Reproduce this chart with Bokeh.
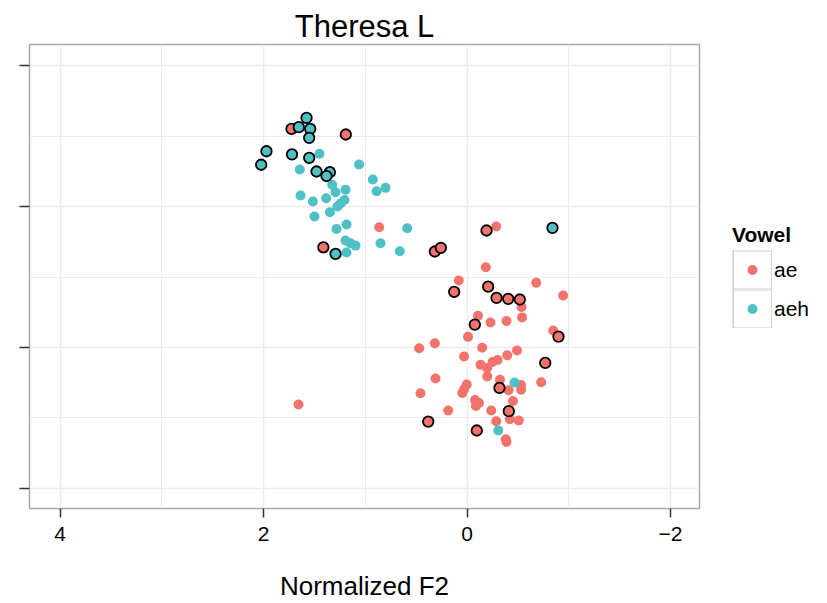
import numpy as np
from bokeh.plotting import figure
from bokeh.layouts import row
from bokeh.models import Range1d, FixedTicker, Legend, LegendItem, ColumnDataSource
from bokeh.embed import file_html
from bokeh.resources import INLINE

# ---- data (Normalized F2 on x, unlabelled F1 scale on y) ----
ae_x = [0.863, 1.656, -0.287, -0.185, 0.081, -0.680, -0.945, -0.536, -0.108, -0.231,
        -0.388, -0.541, -0.847, -0.010, 0.470, 0.316, -0.149, 0.029, -0.395, -0.491,
        -0.300, -0.251, -0.133, -0.197, -0.199, 0.310, -0.324, -0.531, -0.531, -0.729,
        -0.408, 0.003, 0.027, 0.046, 0.457, -0.079, -0.118, -0.088, -0.452, 0.185,
        -0.238, -0.287, -0.421, -0.509, -0.381, -0.388]
ae_y = [0.854, -0.405, 0.859, 0.570, 0.476, 0.460, 0.369, 0.288, 0.226, 0.178,
        0.188, 0.214, 0.121, 0.076, -0.005, 0.031, -0.001, -0.064, -0.055, -0.021,
        -0.089, -0.103, -0.123, -0.146, -0.205, -0.220, -0.229, -0.266, -0.300, -0.246,
        -0.303, -0.263, -0.295, -0.323, -0.325, -0.373, -0.394, -0.415, -0.380, -0.447,
        -0.447, -0.523, -0.509, -0.518, -0.651, -0.670]

aeh_x = [1.450, 1.061, 1.643, 0.926, 0.801, 0.889, 1.325, 1.292, 1.194, 1.636,
         1.515, 1.384, 1.204, 1.243, 1.273, 1.348, 1.499, 1.184, 1.283, 0.588,
         1.194, 1.145, 1.096, 0.850, 0.660, 1.184, -0.467, -0.307]
aeh_y = [1.376, 1.300, 1.264, 1.193, 1.134, 1.110, 1.156, 1.103, 1.120, 1.080,
         1.037, 1.060, 1.048, 1.023, 1.001, 0.961, 0.930, 0.874, 0.842, 0.847,
         0.760, 0.741, 0.724, 0.741, 0.684, 0.675, -0.249, -0.589]

# highlighted tokens (drawn with black outline)
ae_hl_x = [1.725, 1.191, 1.412, -0.192, 0.316, 0.257, -0.208, 0.126, -0.290, -0.405,
           -0.519, -0.077, -0.899, -0.769, -0.319, -0.411, 0.381, -0.096]
ae_hl_y = [1.553, 1.513, 0.712, 0.831, 0.682, 0.708, 0.433, 0.396, 0.353, 0.346,
           0.341, 0.163, 0.078, -0.109, -0.286, -0.452, -0.526, -0.589]
aeh_hl_x = [1.577, 1.653, 1.541, 1.551, 1.971, 2.023, 1.720, 1.551, 1.479, 1.348,
            1.381, 1.292, -0.840]
aeh_hl_y = [1.631, 1.565, 1.553, 1.489, 1.394, 1.298, 1.372, 1.347, 1.250, 1.245,
            1.218, 0.665, 0.850]

vowels = ["ae", "aeh"]
x_ticks = [-2, 0, 2, 4]
x_tick_labels = ["\u22122", "0", "2", "4"]
y_ticks = [-1, 0, 1, 2]

RED = "#F2736B"
TEAL = "#4FC0C5"
FONT = "Liberation Sans"

p = figure(width=701, height=603,
           x_range=Range1d(4.30, -2.285), y_range=Range1d(-1.143, 2.152),
           output_backend="svg", toolbar_location=None,
           min_border_left=29, min_border_right=2,
           min_border_top=44, min_border_bottom=95,
           title="Theresa L")

p.background_fill_color = "white"
p.border_fill_color = "white"
p.outline_line_color = "#AAAAAA"
p.outline_line_width = 1.5

p.title.text_font = FONT
p.title.text_font_size = "31px"
p.title.text_font_style = "normal"
p.title.text_color = "black"
p.title.align = "center"
p.title.standoff = 1

# axes
p.xaxis.ticker = FixedTicker(ticks=x_ticks, minor_ticks=[-1, 1, 3])
p.yaxis.ticker = FixedTicker(ticks=y_ticks, minor_ticks=[-0.5, 0.5, 1.5])
p.xaxis.major_label_overrides = {t: s for t, s in zip(x_ticks, x_tick_labels)}
p.yaxis.major_label_overrides = {t: "" for t in y_ticks}
for ax in (p.xaxis[0], p.yaxis[0]):
    ax.axis_line_color = None
    ax.major_tick_line_color = "#333333"
    ax.major_tick_line_width = 1.5
    ax.major_tick_in = 0
    ax.minor_tick_line_color = None
    ax.major_label_text_font = FONT
    ax.major_label_text_font_size = "21px"
    ax.major_label_text_color = "black"
p.xaxis.major_tick_out = 9
p.yaxis.major_tick_out = 10
p.xaxis.major_label_standoff = 9
p.xaxis.axis_label = "Normalized F2"
p.xaxis.axis_label_text_font = FONT
p.xaxis.axis_label_text_font_size = "26px"
p.xaxis.axis_label_text_font_style = "normal"
p.xaxis.axis_label_text_color = "black"
p.xaxis.axis_label_standoff = 27

for g in (p.xgrid[0], p.ygrid[0]):
    g.grid_line_color = "#EBEBEB"
    g.grid_line_width = 1.5
    g.minor_grid_line_color = "#EBEBEB"
    g.minor_grid_line_width = 1.0

# points
p.scatter(ae_x, ae_y, size=10, fill_color=RED, line_color=None)
p.scatter(aeh_x, aeh_y, size=10, fill_color=TEAL, line_color=None)
p.scatter(ae_hl_x, ae_hl_y, size=10.5, fill_color=RED, line_color="black", line_width=1.8)
p.scatter(aeh_hl_x, aeh_hl_y, size=10.5, fill_color=TEAL, line_color="black", line_width=1.8)

# ---- legend panel (separate figure to the right, ggplot-style boxed keys) ----
lg = figure(width=126, height=603, x_range=Range1d(0, 1), y_range=Range1d(0, 1),
            output_backend="svg", toolbar_location=None,
            x_axis_location=None, y_axis_location=None,
            min_border_left=0, min_border_right=0, min_border_top=0, min_border_bottom=0)
lg.grid.visible = False
lg.outline_line_color = None
lg.background_fill_color = "white"
lg.border_fill_color = "white"

proxy = ColumnDataSource(data=dict(x=[np.nan], y=[np.nan]))
key_frame = lg.line(x="x", y="y", source=proxy, line_color="#CCCCCC", line_width=39)
key_fill = lg.scatter(x="x", y="y", source=proxy, marker="square", size=10,
                      fill_color="white", line_color="white", line_width=21.6,
                      line_join="miter")
key_ae = lg.scatter(x="x", y="y", source=proxy, size=10, fill_color=RED,
                    line_color="white", line_width=5.6)
key_aeh = lg.scatter(x="x", y="y", source=proxy, size=10, fill_color=TEAL,
                     line_color="white", line_width=5.6)

legend = Legend(items=[LegendItem(label=vowels[0], renderers=[key_frame, key_fill, key_ae]),
                       LegendItem(label=vowels[1], renderers=[key_frame, key_fill, key_aeh])],
                title="Vowel", location=(31, 180),
                glyph_width=40, glyph_height=39, spacing=0, label_standoff=2,
                padding=0, margin=0, border_line_color=None, background_fill_alpha=0,
                title_text_font=FONT, title_text_font_style="bold",
                title_text_font_size="21px", title_text_color="black", title_standoff=3,
                label_text_font=FONT, label_text_font_size="21px",
                label_text_color="black")
lg.add_layout(legend, "center")

layout = row(p, lg)
open("out.html", "w").write(file_html(layout, INLINE))
